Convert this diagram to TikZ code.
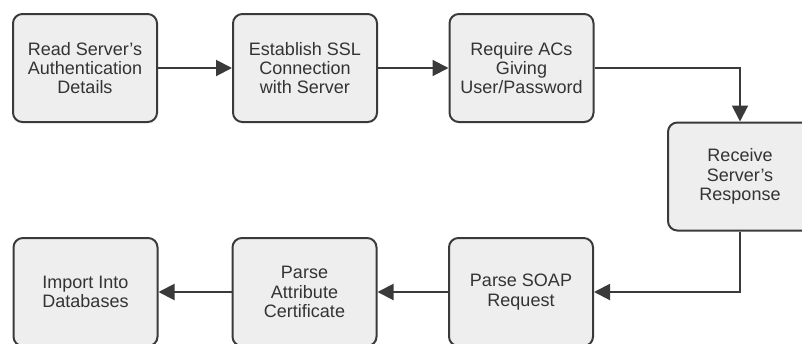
\documentclass[tikz,border=0pt]{standalone}
\usepackage{fontspec}
\setmainfont{Liberation Sans}
\usepackage{xcolor}
\usepackage{tikz}
\usetikzlibrary{arrows.meta,positioning,calc}
\definecolor{stepfill}{HTML}{EEEEEE}
\definecolor{stepline}{HTML}{3A3A3A}
\tikzset{
  stepbox/.style={rectangle, draw=stepline, fill=stepfill, line width=1.5pt,
    rounded corners=7pt, minimum width=108pt, minimum height=81pt,
    align=center, font=\fontsize{13.5}{14.4}\selectfont, inner sep=2pt,
    text=black!80},
  flowarrow/.style={-{Triangle[length=12pt,width=12pt]}, draw=stepline,
    line width=1.5pt},
}

\begin{document}
\begin{tikzpicture}[x=0.75pt, y=-0.75pt]
  \useasboundingbox (0,0) rectangle (802,343);

  % ============ Top row ============
  \node[stepbox] (readauth)  at ( 85,   68) {Read Server's\\Authentication\\Details};
  \node[stepbox] (sslconn)   at (305,   68) {Establish SSL\\Connection\\with Server};
  \node[stepbox] (requireac) at (521.5, 68) {Require ACs\\Giving\\User/Password};

  % ============ Right side ============
  \node[stepbox] (receive)   at (740, 176.5) {Receive\\Server's\\Response};

  % ============ Bottom row ============
  \node[stepbox] (parsesoap) at (521,   292) {Parse SOAP\\Request};
  \node[stepbox] (parseattr) at (304.5, 292) {Parse\\Attribute\\Certificate};
  \node[stepbox] (importdb)  at ( 85.5, 292) {Import Into\\Databases};

  % ============ Flow ============
  \draw[flowarrow] (readauth) -- (sslconn);
  \draw[flowarrow] (sslconn) -- (requireac);
  \draw[flowarrow] (requireac.east) -| (receive.north);
  \draw[flowarrow] (receive.south) |- (parsesoap.east);
  \draw[flowarrow] (parsesoap) -- (parseattr);
  \draw[flowarrow] (parseattr) -- (importdb);

\end{tikzpicture}
\end{document}
